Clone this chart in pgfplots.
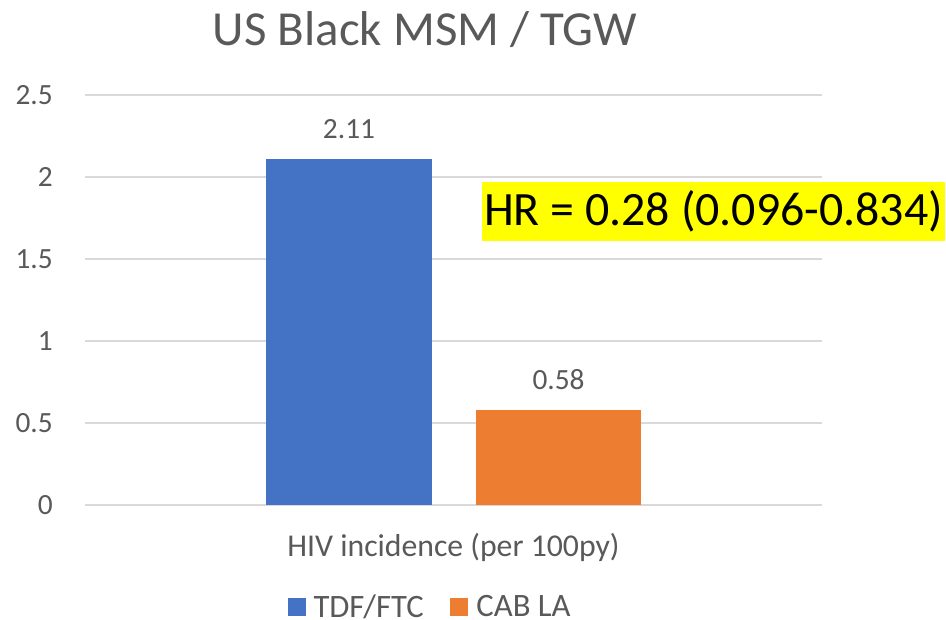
\documentclass[border=0pt]{standalone}
\usepackage{pgfplots}
\pgfplotsset{compat=1.18}
\usepackage{fontspec}
\setmainfont{Carlito}
\definecolor{cblue}{HTML}{4472C4}
\definecolor{corange}{HTML}{ED7D31}
\definecolor{tgray}{HTML}{595959}
\definecolor{ggray}{HTML}{D9D9D9}
\definecolor{hryellow}{HTML}{FFFF00}
\begin{document}
\begin{tikzpicture}
\useasboundingbox (-63.75pt,-86.25pt) rectangle (645.75pt,378.75pt);
\begin{axis}[
  x=0.75pt, y=123pt,
  xmin=0, xmax=737, ymin=0, ymax=2.5,
  clip=false,
  axis line style={draw=none},
  major tick length=0pt,
  xtick=\empty,
  ytick={0,0.5,1,1.5,2,2.5},
  yticklabels={0,0.5,1,1.5,2,2.5},
  yticklabel style={font=\fontsize{22}{26}\selectfont, text=tgray, anchor=east, inner sep=0pt, xshift=-24pt},
  ymajorgrids,
  grid style={ggray, line width=1.1pt},
  ybar, bar shift=0pt,
  point meta=explicit symbolic,
  nodes near coords,
  every node near coord/.append style={font=\fontsize{22}{26}\selectfont, text=tgray, anchor=south, inner sep=0pt, yshift=15pt},
  legend columns=2,
  legend style={at={(0.4668,-0.2488)}, anchor=center, draw=none, fill=none,
    font=\fontsize{24.5}{28}\selectfont, text=tgray,
    nodes={inner xsep=0pt, inner ysep=0pt},
    /tikz/every odd column/.append style={column sep=6pt},
    /tikz/every even column/.append style={column sep=20pt}},
  legend image code/.code={\fill[#1] (0pt,-6.75pt) rectangle (13.5pt,6.75pt);},
]
\addplot[fill=cblue, draw=none, bar width=166] coordinates {(264,2.11) [2.11]};
\addlegendentry{TDF/FTC}
\addplot[fill=corange, draw=none, bar width=165] coordinates {(473.5,0.58) [0.58]};
\addlegendentry{CAB LA}
\node[font=\fontsize{23.8}{28}\selectfont, text=tgray] at (axis cs:368.5,-0.256) {HIV incidence (per 100py)};
\node[font=\fontsize{36.7}{44}\selectfont, text=tgray] at (axis cs:340,2.896) {US Black MSM / TGW};
\node[font=\fontsize{35.9}{43}\selectfont, fill=hryellow, inner xsep=1.5pt, inner ysep=6.5pt] at (axis cs:628.5,1.7896) {HR = 0.28 (0.096-0.834)};
\end{axis}
\end{tikzpicture}
\end{document}
